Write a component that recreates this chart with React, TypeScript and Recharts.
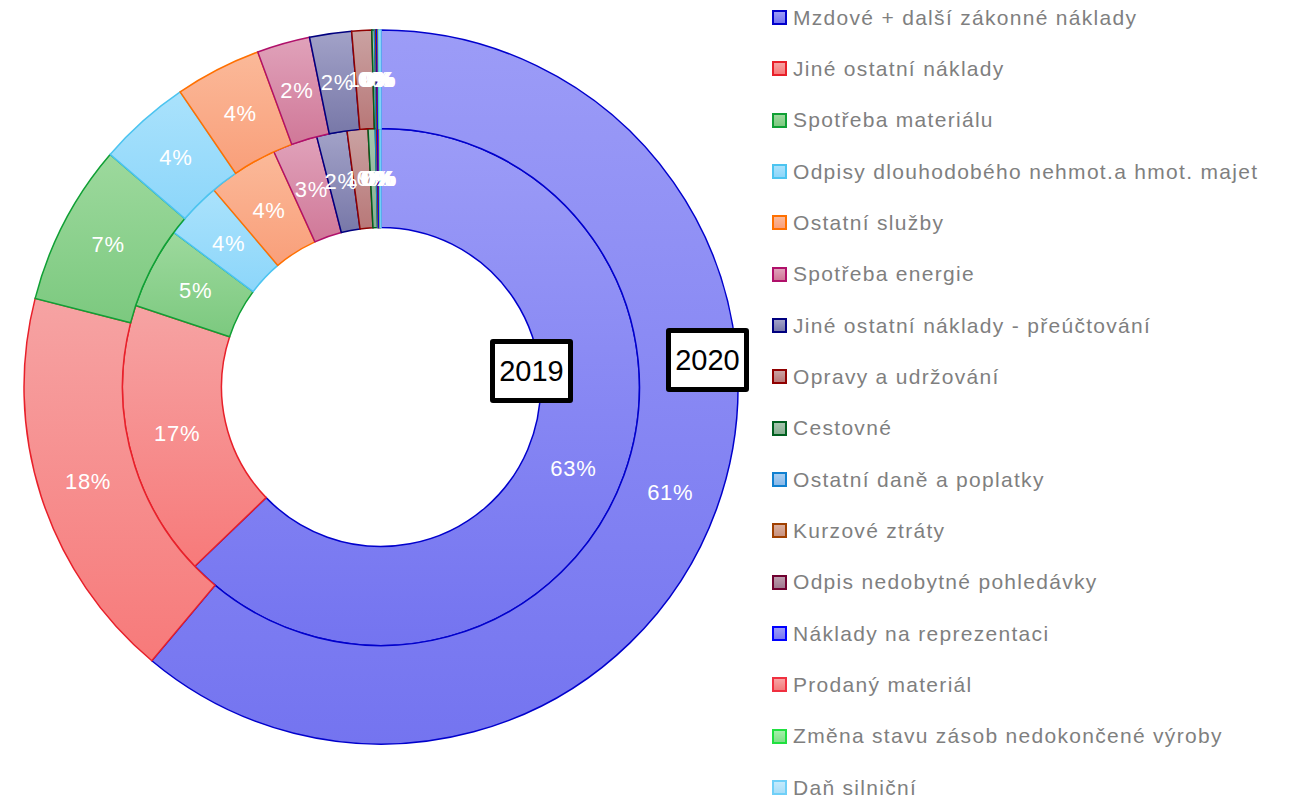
import React from 'react';
import { PieChart, Pie, Cell, Legend } from 'recharts';

const categories = [
  'Mzdové + další zákonné náklady',
  'Jiné ostatní náklady',
  'Spotřeba materiálu',
  'Odpisy dlouhodobého nehmot.a hmot. majet',
  'Ostatní služby',
  'Spotřeba energie',
  'Jiné ostatní náklady - přeúčtování',
  'Opravy a udržování',
  'Cestovné',
  'Ostatní daně a poplatky',
  'Kurzové ztráty',
  'Odpis nedobytné pohledávky',
  'Náklady na reprezentaci',
  'Prodaný materiál',
  'Změna stavu zásob nedokončené výroby',
  'Daň silniční',
];

// share of total costs, %
const values2019 = [62.8, 17.3, 5.1, 3.6, 4.4, 2.8, 1.9, 1.3, 0.45, 0.08, 0.04, 0.03, 0.08, 0.04, 0.02, 0.06];
const values2020 = [61.1, 17.9, 7.3, 4.2, 3.9, 2.4, 1.9, 0.9, 0.12, 0.05, 0.03, 0.02, 0.05, 0.02, 0.02, 0.1];

const yearLabels = ['2019', '2020'];

const STROKES = ['#0000cc', '#e8202a', '#10a035', '#4cc4f0', '#ff7000', '#b0106a', '#00007f', '#900000',
  '#006020', '#1080d0', '#a04000', '#700030', '#0000ff', '#f03040', '#20e040', '#70d0f8'];
const FILL_TOP = ['#9c9cf7', '#f6a3a3', '#9dd99d', '#aae2fc', '#fbb999', '#e0a2ba', '#a2a2c8', '#caa2a2',
  '#a6c6ae', '#a8cef2', '#dcae9c', '#bc9cac', '#9c9cf8', '#f8a4a4', '#a4f0aa', '#c4eafc'];
const FILL_BOTTOM = ['#7474f0', '#f77a7a', '#7cc97f', '#8cd6fa', '#f99f7a', '#d07898', '#7878a8', '#b87878',
  '#88ae92', '#88b8e8', '#c8927e', '#a07890', '#7878f2', '#f27c7c', '#80e088', '#a8def8'];

const FONT = '"Liberation Sans", Arial, sans-serif';
const RAD = Math.PI / 180;

const data2019 = categories.map((name, i) => ({ name, value: values2019[i] }));
const data2020 = categories.map((name, i) => ({ name, value: values2020[i] }));

const renderLabel = (props: any) => {
  const { cx, cy, midAngle, innerRadius, outerRadius, percent } = props;
  const r = (innerRadius + outerRadius) / 2;
  const x = cx + r * Math.cos(-midAngle * RAD);
  const y = cy + r * Math.sin(-midAngle * RAD);
  return (
    <text
      x={x}
      y={y}
      fill="#fff"
      fontSize={22}
      letterSpacing={0.7}
      fontFamily={FONT}
      textAnchor="middle"
      dominantBaseline="central"
    >
      {Math.round(percent * 100)}%
    </text>
  );
};

const LegendList = () => (
  <div style={{ fontFamily: FONT }}>
    {categories.map((name, i) => (
      <div key={name} style={{ height: 51.33, display: 'flex', alignItems: 'center' }}>
        <span
          style={{
            width: 11,
            height: 11,
            border: `2px solid ${STROKES[i]}`,
            background: `linear-gradient(${FILL_TOP[i]}, ${FILL_BOTTOM[i]})`,
            marginRight: 6,
            display: 'inline-block',
          }}
        />
        <span style={{ fontSize: 21, color: '#7f7f7f', letterSpacing: 1.3, whiteSpace: 'nowrap' }}>{name}</span>
      </div>
    ))}
  </div>
);

const yearBox = (text: string, left: number, top: number) => (
  <div
    style={{
      position: 'absolute',
      left,
      top,
      width: 83,
      height: 64,
      boxSizing: 'border-box',
      border: '5px solid #000',
      borderRadius: 3,
      background: '#fff',
      display: 'flex',
      alignItems: 'center',
      justifyContent: 'center',
      fontFamily: FONT,
      fontSize: 29,
      color: '#000',
    }}
  >
    {text}
  </div>
);

export default function App() {
  return (
    <div style={{ position: 'absolute', left: 0, top: 0, width: 1304, height: 801, background: '#fff' }}>
      <PieChart width={1304} height={801} margin={{ top: 0, right: 0, bottom: 0, left: 0 }}>
        <defs>
          {categories.map((_, i) => (
            <linearGradient key={i} id={`grad-${i}`} x1="0" y1="0" x2="0" y2="1">
              <stop offset="0%" stopColor={FILL_TOP[i]} />
              <stop offset="100%" stopColor={FILL_BOTTOM[i]} />
            </linearGradient>
          ))}
        </defs>
        <Pie
          data={data2019}
          dataKey="value"
          nameKey="name"
          cx={381}
          cy={387}
          innerRadius={159.5}
          outerRadius={258.5}
          startAngle={90}
          endAngle={-270}
          label={renderLabel}
          labelLine={false}
          isAnimationActive={false}
        >
          {data2019.map((_, i) => (
            <Cell key={i} fill={`url(#grad-${i})`} stroke={STROKES[i]} strokeWidth={1.5} />
          ))}
        </Pie>
        <Pie
          data={data2020}
          dataKey="value"
          nameKey="name"
          cx={381}
          cy={387}
          innerRadius={258.5}
          outerRadius={357}
          startAngle={90}
          endAngle={-270}
          label={renderLabel}
          labelLine={false}
          isAnimationActive={false}
        >
          {data2020.map((_, i) => (
            <Cell key={i} fill={`url(#grad-${i})`} stroke={STROKES[i]} strokeWidth={1.5} />
          ))}
        </Pie>
        <Legend
          content={<LegendList />}
          layout="vertical"
          wrapperStyle={{ left: 772, top: -8, width: 530 }}
        />
      </PieChart>
      {yearBox(yearLabels[0], 490, 339)}
      {yearBox(yearLabels[1], 666, 328)}
    </div>
  );
}
